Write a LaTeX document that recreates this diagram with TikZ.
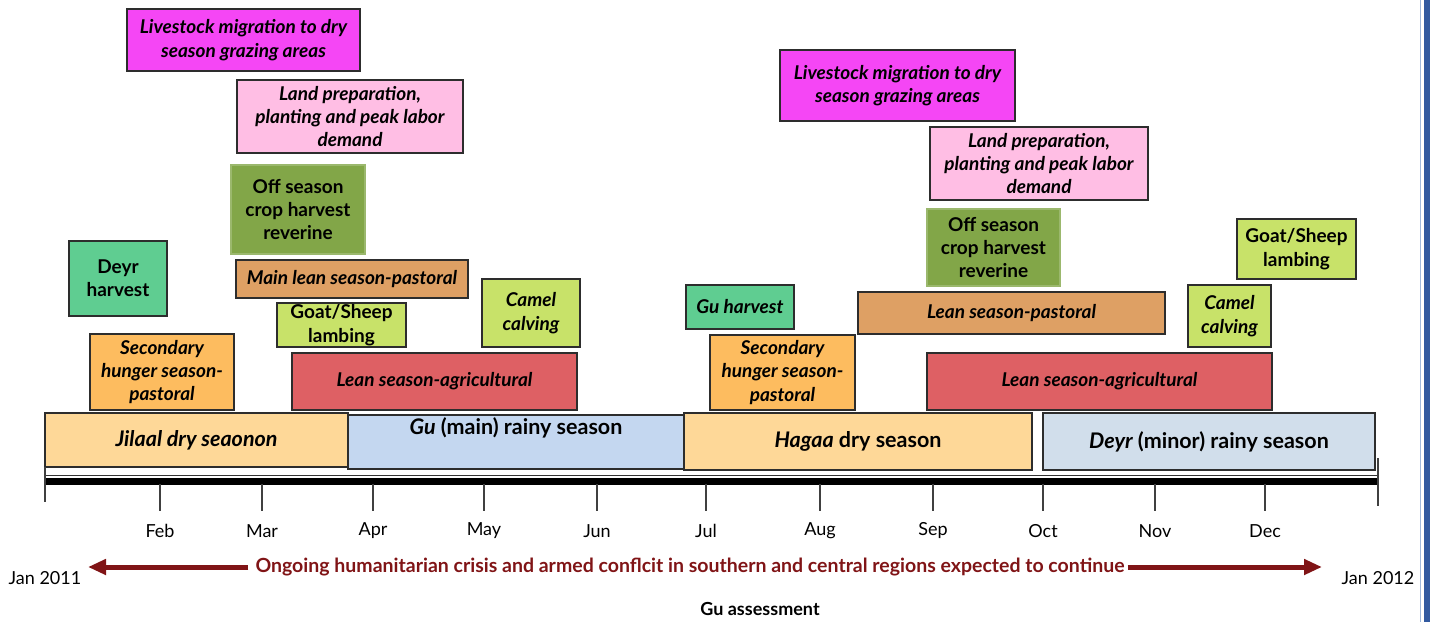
\documentclass[tikz,border=0pt]{standalone}
\usepackage{fontspec}
\setmainfont{Lato}
\usetikzlibrary{arrows.meta}
\definecolor{cMag}{RGB}{245,70,245}
\definecolor{cPink}{RGB}{255,190,228}
\definecolor{cOlive}{RGB}{130,166,72}
\definecolor{cGreen}{RGB}{95,205,145}
\definecolor{cBrown}{RGB}{222,160,100}
\definecolor{cLGreen}{RGB}{200,226,105}
\definecolor{cOrange}{RGB}{253,188,95}
\definecolor{cRed}{RGB}{222,96,100}
\definecolor{cLOrange}{RGB}{254,216,152}
\definecolor{cLBlue}{RGB}{196,215,240}
\definecolor{cBGray}{RGB}{209,222,235}
\definecolor{cDRed}{RGB}{128,20,22}
\definecolor{cBorder}{RGB}{45,45,45}
\definecolor{cEdge}{RGB}{50,90,160}
\definecolor{cEdgeL}{RGB}{160,185,220}
\newcommand\bx[7]{\node[#6, minimum width={(#4-#2)*1pt}, minimum height={(#5-#3)*1pt}] (#1) at ({(#2+#4)/2},{(#3+#5)/2}) {#7};}
\tikzset{
  evbox/.style={draw=cBorder, line width=1.3pt, inner sep=0pt, align=center,
    font=\fontsize{19}{23.3}\selectfont\bfseries},
  evit/.style={evbox, font=\fontsize{19}{23.3}\selectfont\bfseries\itshape},
  seasonbox/.style={draw=cBorder, line width=1.3pt, inner sep=0pt, align=center,
    font=\fontsize{21.5}{24}\selectfont\bfseries},
  seasontext/.style={inner sep=0pt, font=\fontsize{21.5}{24}\selectfont\bfseries},
  monthlbl/.style={inner sep=0pt, font=\fontsize{18}{20}\selectfont},
  tickln/.style={draw=black!75, line width=1.1pt},
  crisis/.style={draw=cDRed, line width=5pt, -{Triangle[length=18pt,width=15pt]}}
}
\begin{document}
\begin{tikzpicture}[x=1pt,y=-1pt]
\useasboundingbox (0,0) rectangle (1430,622);
% right page edge
\fill[cEdge] (1424,0) rectangle (1430,622);
\draw[cEdgeL, line width=1.2pt] (1420.5,0) -- (1420.5,622);

% event boxes (first half)
\bx{liv1}{127}{9}{360}{71}{evit, fill=cMag}{Livestock migration to dry\\season grazing areas}
\bx{land1}{237}{80}{463}{153}{evit, fill=cPink}{Land preparation,\\planting and peak labor\\demand}
\bx{off1}{231}{165}{365}{254}{evbox, fill=cOlive, draw=cOlive!80!white}{Off season\\crop harvest\\reverine}
\bx{deyrh}{69}{241}{167}{316}{evbox, fill=cGreen}{Deyr\\harvest}
\bx{mainlean}{236}{260}{468}{298}{evit, fill=cBrown}{Main lean season-pastoral}
\bx{goat1}{277}{303}{406}{347}{evbox, fill=cLGreen}{Goat/Sheep\\lambing}
\bx{camel1}{482}{279}{580}{347}{evit, fill=cLGreen}{Camel\\calving}
\bx{sec1}{90}{334}{234}{410}{evit, fill=cOrange}{Secondary\\hunger season-\\pastoral}
\bx{leanag1}{292}{353}{577}{410}{evit, fill=cRed}{Lean season-agricultural}

% event boxes (second half)
\bx{liv2}{780}{50}{1015}{121}{evit, fill=cMag}{Livestock migration to dry\\season grazing areas}
\bx{land2}{930}{127}{1148}{200}{evit, fill=cPink}{Land preparation,\\planting and peak labor\\demand}
\bx{off2}{927}{209}{1060}{286}{evbox, fill=cOlive, draw=cOlive!80!white}{Off season\\crop harvest\\reverine}
\bx{goat2}{1237}{219}{1356}{279}{evbox, fill=cLGreen}{Goat/Sheep\\lambing}
\bx{guh}{686}{285}{794}{329}{evit, fill=cGreen}{Gu harvest}
\bx{camel2}{1188}{285}{1271}{347}{evit, fill=cLGreen}{Camel\\calving}
\bx{leanpast}{858}{292}{1165}{334}{evit, fill=cBrown}{Lean season-pastoral}
\bx{sec2}{710}{335}{855}{410}{evit, fill=cOrange}{Secondary\\hunger season-\\pastoral}
\bx{leanag2}{927}{353}{1272}{410}{evit, fill=cRed}{Lean season-agricultural}

% seasons
\bx{jilaal}{45}{413}{348}{467}{seasonbox, fill=cLOrange}{\itshape Jilaal dry seaonon}
\bx{gu}{348}{415}{684}{469}{seasonbox, fill=cLBlue}{}
\node[seasontext] (gutext) at (516,428) {\itshape Gu\upshape{} (main) rainy season};
\bx{hagaa}{684}{413}{1032}{470}{seasonbox, fill=cLOrange}{\itshape Hagaa\upshape{} dry season}
\bx{deyr}{1043}{413}{1375}{470}{seasonbox, fill=cBGray}{\itshape Deyr\upshape{} (minor) rainy season}

% timeline
\draw[black!80, line width=1.2pt] (45,475.5) -- (1378,475.5);
\fill[black] (45,477.5) rectangle (1378,484.5);
\draw[tickln] (45,467) -- (45,502);
\draw[tickln] (1378,458) -- (1378,506);
\foreach \xx/\mm in {160/Feb,262/Mar,373/Apr,484/May,597/Jun,706/Jul,820/Aug,933/Sep,1043/Oct,1155/Nov,1265/Dec}{
  \draw[tickln] (\xx,484) -- (\xx,511);
  \node[monthlbl] (m\mm) at (\xx,531) {\mm};
}

% bottom annotations
\node[monthlbl] (jan11) at (45,578) {Jan 2011};
\node[monthlbl] (jan12) at (1378,578) {Jan 2012};
\node[inner sep=0pt, text=cDRed, font=\fontsize{19.5}{21}\selectfont\bfseries] (ongoing) at (690,567)
  {Ongoing humanitarian crisis and armed conflcit in southern and central regions expected to continue};
\coordinate (arrL) at (88,567);
\coordinate (arrR) at (1322,567);
\draw[crisis] ([xshift=-7pt]ongoing.west) -- (arrL);
\draw[crisis] ([xshift=3pt]ongoing.east) -- (arrR);
\node[inner sep=0pt, font=\fontsize{18}{20}\selectfont\bfseries] (guass) at (760,609) {Gu assessment};
\end{tikzpicture}
\end{document}
